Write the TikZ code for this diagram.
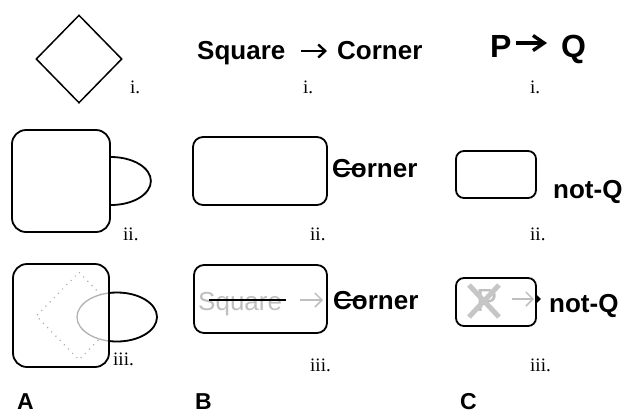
\documentclass[tikz,border=0pt]{standalone}
\usepackage{fontspec}
\setmainfont{Liberation Serif}
\setsansfont{Liberation Sans}
\usetikzlibrary{shapes.geometric,arrows.meta}
\begin{document}
\begin{tikzpicture}[x=1bp,y=-1bp,
  lbl/.style={font=\fontsize{19bp}{19bp}\selectfont, inner sep=0pt, anchor=base west},
  word/.style={font=\fontsize{26bp}{26bp}\selectfont\sffamily\bfseries, inner sep=0pt, anchor=base west},
  bigword/.style={font=\fontsize{32bp}{32bp}\selectfont\sffamily\bfseries, inner sep=0pt, anchor=base west},
  ghost/.style={font=\fontsize{26bp}{26bp}\selectfont\sffamily, text=gray!50, inner sep=0pt, anchor=base west},
  panel/.style={font=\fontsize{23bp}{23bp}\selectfont\sffamily\bfseries, inner sep=0pt, anchor=base west},
  box/.style={draw, line width=1.8bp, rounded corners=#1, inner sep=0pt},
  strike/.style={line width=1.8bp},
  implies/.style={line width=2.4bp, -{Straight Barb[length=7bp,width=13bp]}},
  bigimplies/.style={line width=3.4bp, -{Straight Barb[length=11bp,width=15bp]}},
  faded/.style={draw=gray!50, line width=1.5bp, -{Straight Barb[length=7bp,width=14bp]}},
]
\useasboundingbox (0,0) rectangle (626,413);

% ---------- row i ----------
\node[diamond, draw, line width=1.5bp, aspect=1, inner sep=0pt,
      minimum width=86bp, minimum height=88bp] (dia) at (79,59) {};
\node[lbl] (iA) at (130,93) {i.};

\node[word] (sq1) at (197,59) {Square};
\coordinate (a1s) at (301,51);
\coordinate (a1e) at (327,51);
\draw[implies] (a1s) -- (a1e);
\node[word] (co1) at (337,59) {Corner};
\node[lbl] (iB) at (303,93) {i.};

\node[bigword] (p1) at (490,57) {P};
\coordinate (a2s) at (516,43);
\coordinate (a2e) at (547,43);
\draw[bigimplies] (a2s) -- (a2e);
\node[bigword] (q1) at (561,57) {Q};
\node[lbl] (iC) at (530,93) {i.};

% ---------- row ii ----------
\node[box=14bp, minimum width=98bp, minimum height=102bp] (sqA2) at (61,181) {};
\draw[line width=1.8bp] ([yshift=24bp]sqA2.east)
  arc[start angle=90, end angle=-90, x radius=40bp, y radius=24bp];
\node[lbl] (iiA) at (123,240) {ii.};

\node[box=10bp, minimum width=134bp, minimum height=68bp] (rB2) at (260,171) {};
\node[word] (co2) at (332,177) {Corner};
\draw[strike] ([shift={(1bp,8bp)}]co2.base west) -- ([shift={(30bp,8bp)}]co2.base west);
\node[lbl] (iiB) at (310,240) {ii.};

\node[box=8bp, minimum width=80bp, minimum height=47bp] (rC2) at (496,174.5) {};
\node[word] (nq2) at (553,198) {not-Q};
\node[lbl] (iiC) at (530,240) {ii.};

% ---------- row iii ----------
\node[diamond, draw=gray!70, dash pattern=on 1bp off 5bp, line width=1.2bp, aspect=1,
      inner sep=0pt, minimum width=86bp, minimum height=88bp] (dA3) at (79,316) {};
\node[ellipse, fill=white, draw=gray!60, line width=1.3bp, inner sep=0pt,
      minimum width=80bp, minimum height=49bp] (eA3) at (117,317) {};
\node[box=14bp, minimum width=96bp, minimum height=103bp] (sqA3) at (61,315.5) {};
\begin{scope}
  \clip (sqA3.north east) rectangle (200,380);
  \draw[line width=1.8bp] (eA3.center) ellipse[x radius=40bp, y radius=24.5bp];
\end{scope}
\node[lbl] (iiiA) at (113,365) {iii.};

\node[box=10bp, minimum width=133bp, minimum height=68bp] (rB3) at (260.5,299) {};
\node[ghost] (sq3) at (198,310) {Square};
\coordinate (a3s) at (300,300);
\coordinate (a3e) at (323,300);
\draw[faded] (a3s) -- (a3e);
\draw[strike] ([shift={(11bp,10bp)}]sq3.base west) -- ([shift={(88bp,10bp)}]sq3.base west);
\node[word] (co3) at (333,309) {Corner};
\draw[strike] ([shift={(1bp,9bp)}]co3.base west) -- ([shift={(30bp,9bp)}]co3.base west);
\node[lbl] (iiiB) at (310,371) {iii.};

\node[box=8bp, minimum width=80bp, minimum height=48bp] (rC3) at (496,302) {};
\node[ghost, font=\fontsize{32bp}{32bp}\selectfont\sffamily] (p3) at (476,311) {P};
\coordinate (x1) at (469,285);
\coordinate (x2) at (499,317);
\coordinate (x3) at (499,285);
\coordinate (x4) at (469,317);
\draw[gray!45, line width=5bp] (x1) -- (x2) (x3) -- (x4);
\coordinate (a4s) at (512,299);
\coordinate (a4e) at (534,299);
\draw[faded] (a4s) -- (a4e);
\fill ([yshift=4bp]rC3.east |- a4e) -- ([xshift=4bp]rC3.east |- a4e) -- ([yshift=-4bp]rC3.east |- a4e) -- cycle;
\node[word] (nq3) at (549,312) {not-Q};
\node[lbl] (iiiC) at (530,371) {iii.};

% ---------- panel letters ----------
\node[panel] (pA) at (17,409) {A};
\node[panel] (pB) at (195,409) {B};
\node[panel] (pC) at (460,409) {C};
\end{tikzpicture}
\end{document}
